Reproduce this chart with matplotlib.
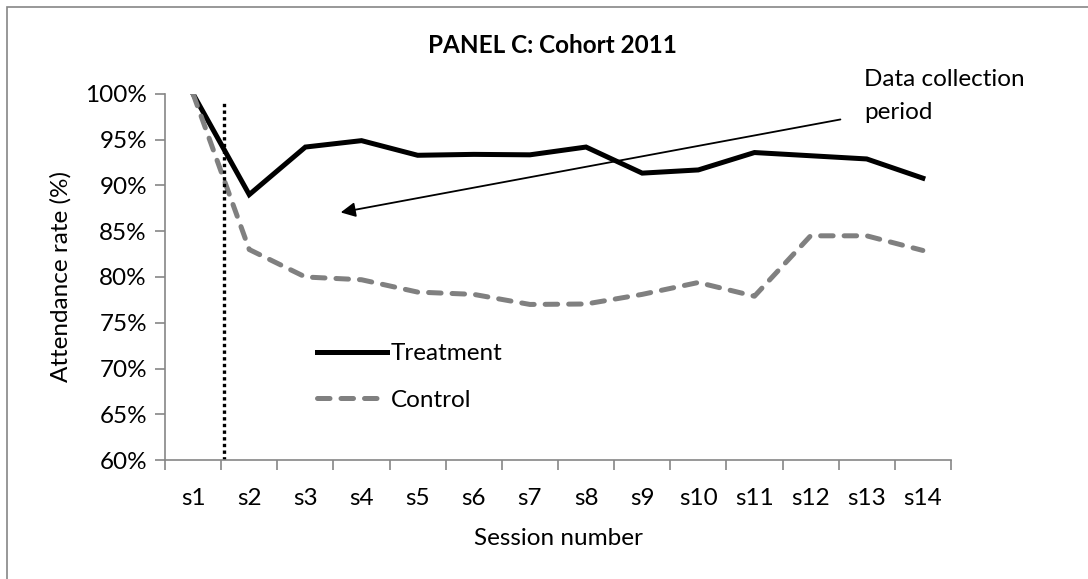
import matplotlib.pyplot as plt
from matplotlib.patches import Rectangle
from matplotlib.ticker import FuncFormatter

plt.rcParams['font.family'] = ['Lato', 'DejaVu Sans']

# Data
sessions = ['s1', 's2', 's3', 's4', 's5', 's6', 's7', 's8', 's9', 's10', 's11', 's12', 's13', 's14']
treatment = [100.0, 89.0, 94.2, 94.9, 93.3, 93.4, 93.35, 94.2, 91.35, 91.7, 93.6, 93.25, 92.9, 90.8]
control = [100.0, 83.0, 80.0, 79.7, 78.35, 78.1, 77.0, 77.05, 78.1, 79.4, 77.9, 84.5, 84.5, 82.9]

fs = 17.5
axis_gray = '#868686'

fig = plt.figure(figsize=(10.88, 5.79), dpi=100)
ax = fig.add_axes([0.1517, 0.2055, 0.7223, 0.6322])

x = list(range(len(sessions)))
ax.plot(x, treatment, color='black', lw=3.6, solid_joinstyle='miter', label='Treatment')
ax.plot(x, control, color='#808080', lw=3.6, ls=(0, (2.5, 2.2)), dash_capstyle='round',
        solid_joinstyle='round', label='Control')

# dotted marker line between s1 and s2
ax.plot([0.55, 0.55], [60, 99], color='black', lw=2.4, ls=(0, (1, 1)), dash_capstyle='butt')

# arrow towards the treatment period
ax.annotate('', xy=(2.58, 87.0), xytext=(11.58, 97.27),
            arrowprops=dict(arrowstyle='-|>', color='black', lw=1.3, mutation_scale=22))

ax.set_xlim(-0.5, len(sessions) - 0.5)
ax.set_ylim(60, 100)
ax.set_yticks(range(60, 101, 5))
ax.yaxis.set_major_formatter(FuncFormatter(lambda v, p: f'{v:.0f}%'))

ax.set_xticks([i - 0.5 for i in range(len(sessions) + 1)])
ax.set_xticklabels([])
ax.set_xticks(x, minor=True)
ax.set_xticklabels(sessions, minor=True)
ax.tick_params(axis='x', which='major', direction='out', length=7, width=1.2, color=axis_gray)
ax.tick_params(axis='x', which='minor', length=0, pad=20, labelsize=fs)
ax.tick_params(axis='y', direction='out', length=7, width=1.2, color=axis_gray, labelsize=fs, pad=6)

for s in ['top', 'right']:
    ax.spines[s].set_visible(False)
for s in ['left', 'bottom']:
    ax.spines[s].set_color(axis_gray)
    ax.spines[s].set_linewidth(1.2)

ax.set_xlabel('Session number', fontsize=fs, labelpad=14)
ax.set_ylabel('Attendance rate (%)', fontsize=fs, labelpad=10)

ax.legend(loc='lower left', bbox_to_anchor=(0.165, 0.075), frameon=False, fontsize=fs,
          handlelength=2.9, handletextpad=0.15, labelspacing=1.05)

fig.text(0.508, 0.922, 'PANEL C: Cohort 2011', ha='center', va='center',
         fontsize=fs, fontweight='bold')
fig.text(0.794, 0.834, 'Data collection\nperiod', ha='left', va='center',
         fontsize=fs, linespacing=1.75)

# chart frame
fig.patches.append(Rectangle((7 / 1088, -0.05), 1.2, 1 - 7 / 579 + 0.05,
                             transform=fig.transFigure, fill=False,
                             edgecolor=axis_gray, lw=1.2))

fig.savefig('out.png', dpi=100)
